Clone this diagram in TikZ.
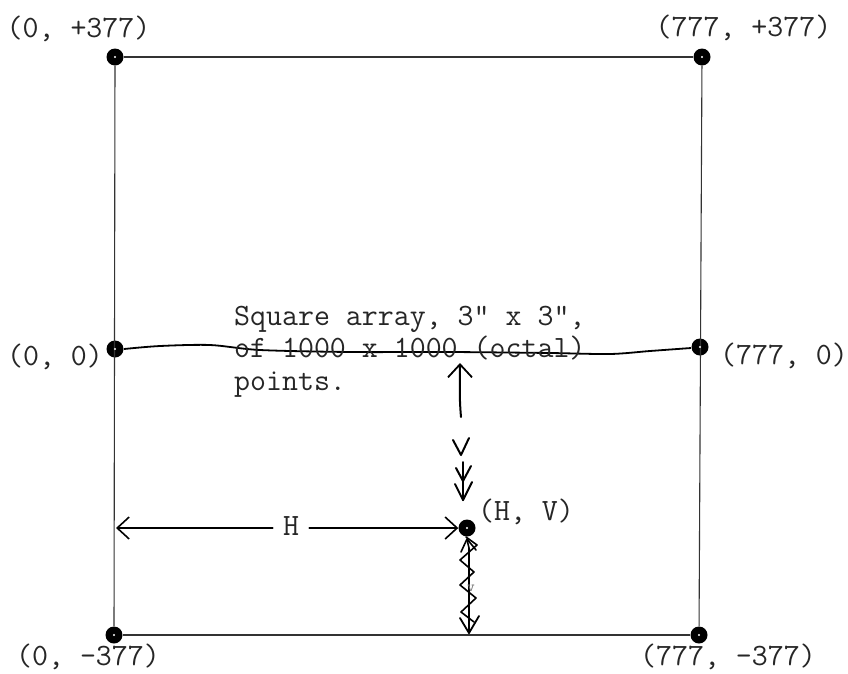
\documentclass[tikz,border=0pt]{standalone}
\usetikzlibrary{arrows.meta}
\begin{document}
\begin{tikzpicture}[x=1pt,y=-1pt,
  frame/.style={line width=1.1pt, black!80},
  dotmark/.style={circle, fill=black, inner sep=0pt, minimum size=17pt},
  lbl/.style={font=\fontsize{31}{36}\selectfont\ttfamily, inner sep=0pt, text=black!85},
  hand/.style={line width=2pt, line cap=round, line join=round, black},
  barb/.style={-{Straight Barb[length=12pt,width=22pt,line width=1.6pt]}},
]
\useasboundingbox (0,0) rectangle (848,673);
% points
\node[dotmark] (tl) at (115,57) {};
\node[dotmark] (tr) at (702,57) {};
\node[dotmark] (ml) at (115,349) {};
\node[dotmark] (mr) at (700,347) {};
\node[dotmark] (bl) at (114,635) {};
\node[dotmark] (br) at (699,635) {};
\node[dotmark] (hv) at (467,528) {};
% frame
\draw[frame] (tl) -- (tr);
\draw[frame] (tr) -- (br);
\draw[frame] (br) -- (bl);
\draw[frame] (bl) -- (tl);
\foreach \p in {tl,tr,ml,mr,bl,br,hv} \fill[white] (\p.center) circle (1.1pt);
% wavy middle line
\draw[line width=1.8pt, black] plot[smooth] coordinates {(124,349) (160,346) (210,345) (260,350) (350,352) (450,352) (550,353) (610,354) (650,351) (691,348)};
% corner labels
\node[lbl, anchor=base] (ltl) at (78.5,37) {(0, +377)};
\node[lbl, anchor=base] (ltr) at (743.5,36) {(777, +377)};
\node[lbl, anchor=base] (lml) at (55,365) {(0, 0)};
\node[lbl, anchor=base] (lmr) at (784,364) {(777, 0)};
\node[lbl, anchor=base] (lbl) at (88,665) {(0, -377)};
\node[lbl, anchor=base] (lbr) at (728,665) {(777, -377)};
\node[lbl, anchor=base] (lhv) at (526,520) {(H, V)};
% text block
\node[lbl, anchor=base west] (t1) at (234,325) {Square array, 3" x 3",};
\node[lbl, anchor=base west] (t2) at (234,357) {of 1000 x 1000 (octal)};
\node[lbl, anchor=base west] (t3) at (234,390) {points.};
% H dimension
\node[lbl, anchor=base] (hlab) at (291,535) {H};
\coordinate (hl) at (116,528);
\draw[hand, line width=1.4pt, barb] ([xshift=-10pt]hlab.west |- hv) -- (hl);
\draw[hand, line width=1.4pt, barb] ([xshift=10pt]hlab.east |- hv) -- (hv.west);
% V dimension (upper)
\coordinate (ua) at (461,417);
\coordinate (ub) at (460,363);
\draw[hand, -{Straight Barb[length=13pt,width=24pt,line width=1.8pt]}] (ua) .. controls (459,395) and (460,380) .. (ub);
\draw[hand] (453,440) -- (461,455) -- (469,438);
\coordinate (da) at (463,462);
\coordinate (db) at (463,500);
\draw[hand] (da) -- (db);
\draw[hand] (456,468) -- (463,481) -- (471,466);
\draw[hand] (455,484) -- (463,500) -- (472,482);
% zigzag scribble below
\coordinate (zb) at (469,633);
\draw[hand, line width=1.6pt] (hv.south) ++(0,3) -- (469,548) -- (469,633);
\draw[hand, line width=1.6pt] (466,537) -- (477,545) -- (460,560) -- (474,572) -- (460,585) -- (476,598) -- (461,612) -- (474,622);
\draw[hand, line width=1.6pt] (461,552) -- (467,539) -- (476,550);
\draw[hand, line width=1.8pt] (460,618) -- (469,633) -- (479,616);
\node[font=\fontsize{15}{15}\selectfont\ttfamily, text=black!55, inner sep=0pt] (vs) at (471,588) {v};
\end{tikzpicture}
\end{document}
